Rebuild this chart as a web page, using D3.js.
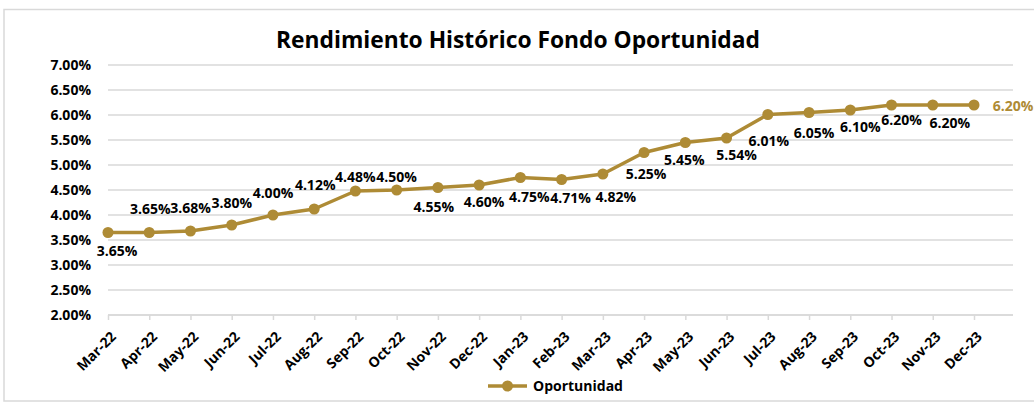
<!DOCTYPE html>
<html>
<head>
<meta charset="utf-8">
<script src="https://cdn.jsdelivr.net/npm/d3@7"></script>
<style>
  html, body { margin: 0; padding: 0; background: #fff; }
  svg { display: block; font-family: 'Open Sans', 'Noto Sans', sans-serif; font-weight: 700; }
</style>
</head>
<body>
<div id="chart"></div>
<script>
const title = 'Rendimiento Histórico Fondo Oportunidad';
const seriesName = 'Oportunidad';
const months = ['Mar-22', 'Apr-22', 'May-22', 'Jun-22', 'Jul-22', 'Aug-22', 'Sep-22', 'Oct-22',
  'Nov-22', 'Dec-22', 'Jan-23', 'Feb-23', 'Mar-23', 'Apr-23', 'May-23', 'Jun-23',
  'Jul-23', 'Aug-23', 'Sep-23', 'Oct-23', 'Nov-23', 'Dec-23'];
const rates = [3.65, 3.65, 3.68, 3.80, 4.00, 4.12, 4.48, 4.50, 4.55, 4.60, 4.75, 4.71,
  4.82, 5.25, 5.45, 5.54, 6.01, 6.05, 6.10, 6.20, 6.20, 6.20];
const yTicks = [2.0, 2.5, 3.0, 3.5, 4.0, 4.5, 5.0, 5.5, 6.0, 6.5, 7.0];

// label nudges (dx, dy) relative to each point, as placed in the original
const labelNudge = [[9, 18], [1, -24], [0, -23], [0, -22], [0, -22], [1, -24], [0, -14], [0, -13],
  [-4, 19], [5, 17], [9, 19], [9, 18], [13, 23], [2, 21], [-1, 17], [10, 17],
  [1, 26], [5, 20], [10, 17], [10, 15], [17, 18], [39, 1]];

const W = 1034, H = 405;
const gold = '#AE8B35';
const grid = '#D9D9D9';
const font = "'Open Sans', 'Noto Sans', sans-serif";

const svg = d3.select('#chart').append('svg')
  .attr('width', W).attr('height', H);

// outer chart border
svg.append('rect')
  .attr('x', 4).attr('y', 9.5).attr('width', 1040).attr('height', 391.5)
  .attr('fill', 'none').attr('stroke', grid).attr('stroke-width', 1.5);

const x = d3.scalePoint().domain(months).range([108, 974]);
const y = d3.scaleLinear().domain([2, 7]).range([315, 65]);
const plotRight = 1013;

// Title
svg.append('text')
  .attr('x', 518).attr('y', 48)
  .attr('text-anchor', 'middle')
  .attr('font-size', '22.8px')
  .attr('fill', '#000')
  .text(title);

// Grid lines
svg.append('g')
  .selectAll('line')
  .data(yTicks)
  .enter().append('line')
  .attr('x1', x(months[0])).attr('x2', plotRight)
  .attr('y1', d => y(d)).attr('y2', d => y(d))
  .attr('stroke', grid).attr('stroke-width', 1.5);

// Y axis labels
const yAxis = svg.append('g')
  .attr('transform', `translate(${x(months[0])},0)`)
  .call(d3.axisLeft(y).tickValues(yTicks).tickFormat(d => d.toFixed(2) + '%').tickSize(0).tickPadding(17));
yAxis.select('.domain').remove();
yAxis.selectAll('text')
  .attr('font-family', font)
  .attr('font-weight', 700)
  .attr('font-size', '14px')
  .attr('fill', '#000');

// X axis
const xAxis = svg.append('g')
  .attr('transform', `translate(0,${y(2)})`)
  .call(d3.axisBottom(x).tickSize(5));
xAxis.select('.domain').attr('d', `M${x(months[0])},0H${plotRight}`).attr('stroke', grid).attr('stroke-width', 1.5);
xAxis.selectAll('line').attr('stroke', grid).attr('stroke-width', 1.5);
xAxis.selectAll('text')
  .attr('font-family', font)
  .attr('font-weight', 700)
  .attr('font-size', '14px')
  .attr('fill', '#000')
  .attr('text-anchor', 'end')
  .attr('x', 0).attr('y', 0)
  .attr('dy', '0.35em')
  .attr('transform', 'translate(5,19) rotate(-45)');

// Line
const data = months.map((m, i) => ({ m, v: rates[i], i }));
const line = d3.line().x(d => x(d.m)).y(d => y(d.v));
svg.append('path')
  .datum(data)
  .attr('fill', 'none')
  .attr('stroke', gold)
  .attr('stroke-width', 3.5)
  .attr('stroke-linejoin', 'round')
  .attr('d', line);

svg.append('g')
  .selectAll('circle')
  .data(data)
  .enter().append('circle')
  .attr('cx', d => x(d.m)).attr('cy', d => y(d.v))
  .attr('r', 5.5)
  .attr('fill', gold);

// Data labels
svg.append('g')
  .selectAll('text')
  .data(data)
  .enter().append('text')
  .attr('x', d => x(d.m) + labelNudge[d.i][0])
  .attr('y', d => y(d.v) + labelNudge[d.i][1])
  .attr('dy', '0.36em')
  .attr('text-anchor', 'middle')
  .attr('font-size', '14px')
  .attr('fill', d => d.i === data.length - 1 ? gold : '#000')
  .text(d => d.v.toFixed(2) + '%');

// Legend
const lg = svg.append('g').attr('transform', 'translate(488,386)');
lg.append('line')
  .attr('x1', 0).attr('x2', 39).attr('y1', 0).attr('y2', 0)
  .attr('stroke', gold).attr('stroke-width', 3.5);
lg.append('circle').attr('cx', 19.5).attr('cy', 0).attr('r', 5.5).attr('fill', gold);
lg.append('text')
  .attr('x', 45).attr('y', 0).attr('dy', '0.36em')
  .attr('font-size', '14px')
  .attr('fill', '#000')
  .text(seriesName);
</script>
</body>
</html>
